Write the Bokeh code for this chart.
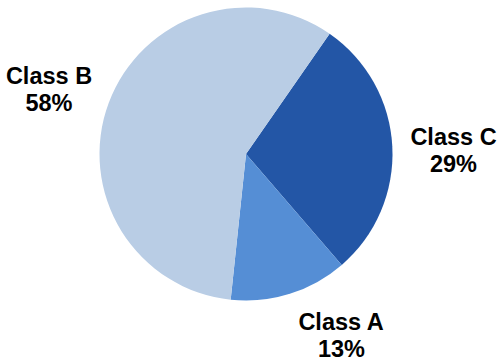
import math
from bokeh.plotting import figure
from bokeh.models import Range1d, ColumnDataSource
from bokeh.core.properties import value
from bokeh.embed import file_html
from bokeh.resources import INLINE

# Data
categories = ["Class C", "Class A", "Class B"]
percentages = [29, 13, 58]
colors = ["#2356a6", "#558ed5", "#b9cde5"]

W, H = 500, 361
cx, cy, r = 245.5, H - 153.5, 146.5
start_deg = 55.2

# wedges clockwise from start angle
starts, ends = [], []
a = start_deg
total = sum(percentages)
for v in percentages:
    span = 360.0 * v / total
    starts.append(math.radians(a - span))
    ends.append(math.radians(a))
    a -= span

src = ColumnDataSource(dict(x=[cx] * 3, y=[cy] * 3, start=starts, end=ends, color=colors))

p = figure(width=W, height=H, output_backend="svg", toolbar_location=None,
           x_range=Range1d(0, W), y_range=Range1d(0, H), min_border=0)
p.axis.visible = False
p.grid.visible = False
p.outline_line_color = None
p.background_fill_color = "white"
p.border_fill_color = "white"

p.wedge(x="x", y="y", radius=r, start_angle="start", end_angle="end",
        fill_color="color", line_color=None, source=src)

# label layout (pixel centers, first-line baselines)
label_x = [453, 341, 48.5]
label_y1 = [136.5, 321.5, 75]
line_gap = 27

names = categories
pcts = [f"{v}%" for v in percentages]
lsrc = ColumnDataSource(dict(
    x=label_x,
    y1=[H - y for y in label_y1],
    y2=[H - y - line_gap for y in label_y1],
    name=names, pct=pcts))

for col, ycol in (("name", "y1"), ("pct", "y2")):
    p.text(x="x", y=ycol, text=col, source=lsrc,
           text_font=value("Liberation Sans"), text_font_style="bold",
           text_font_size="23.5px", text_color="#000000",
           text_align="center", text_baseline="alphabetic")

open("out.html", "w").write(file_html(p, INLINE))
